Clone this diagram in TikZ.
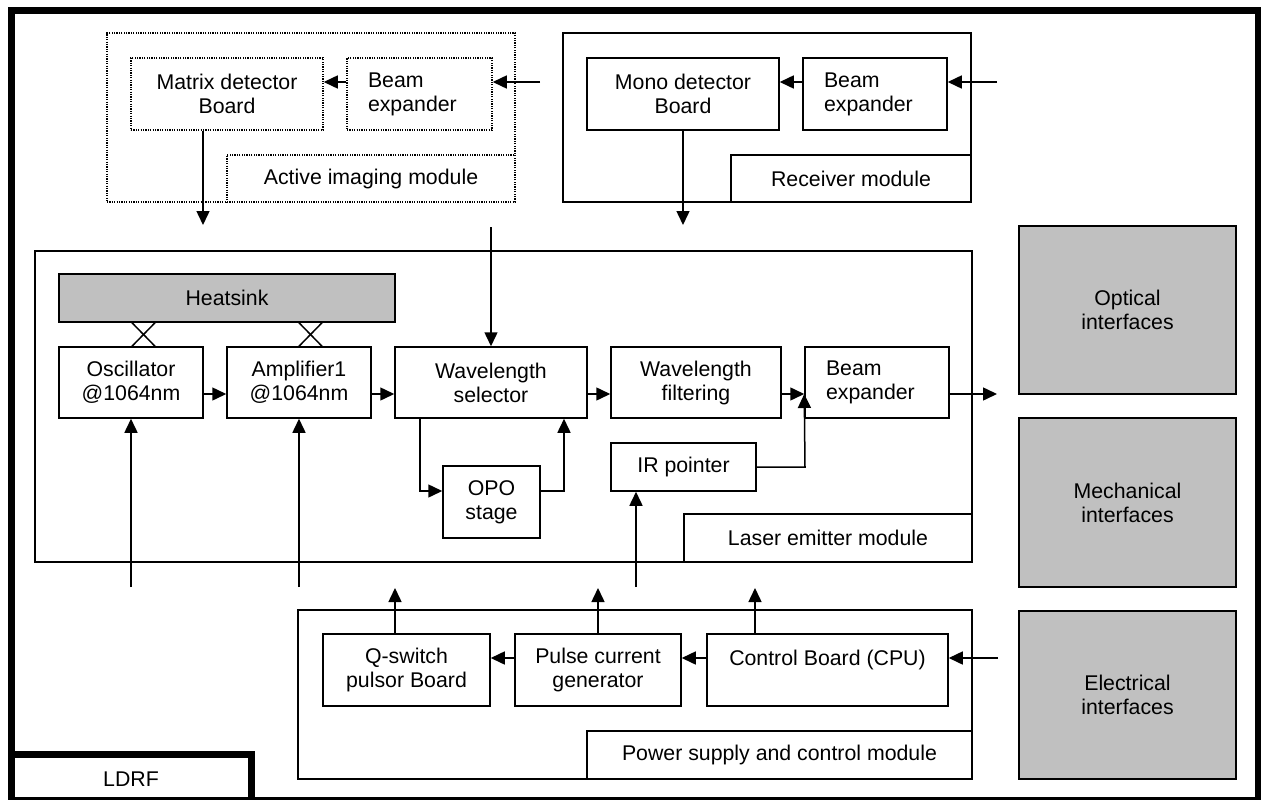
\documentclass[tikz,border=0pt]{standalone}
\usepackage{fontspec}
\setmainfont{Liberation Sans}
\usetikzlibrary{arrows.meta}
\definecolor{boxgray}{HTML}{C0C0C0}
\tikzset{
  txt/.style={font=\fontsize{21.3}{24}\selectfont},
  box/.style={draw, line width=1.5pt, rectangle, inner sep=0pt, align=center, txt},
  dotbox/.style={box, dash pattern=on 1.2pt off 1.2pt},
  graybox/.style={box, fill=boxgray},
  leftbox/.style={box, align=left, text width=#1, inner xsep=21pt},
  arr/.style={line width=1.5pt, -{Triangle[length=14pt,width=13pt]}},
  ln/.style={line width=1.5pt},
}
\begin{document}
\begin{tikzpicture}[x=1pt,y=-1pt]
\useasboundingbox (0,0) rectangle (1261,800);
% outer frame
\draw[line width=7pt] (11,10.5) rectangle (1258,800.5);
\node[box, line width=7pt, minimum width=240pt, minimum height=46pt] (ldrf) at (131,777.5) {};
\node[txt] at (131,779) {LDRF};

% Active imaging module
\node[dotbox, minimum width=408pt, minimum height=169pt] (aim) at (311,117.5) {};
\node[dotbox, fill=white, minimum width=288pt, minimum height=47pt] (aimlab) at (371,178.5) {Active imaging module};
\node[dotbox, minimum width=192pt, minimum height=72pt] (matrix) at (227,94) {Matrix detector\\Board};
\node[dotbox, leftbox=103pt, minimum width=145pt, minimum height=72pt] (bexpa) at (419.5,94) {Beam\\expander};

% Receiver module
\node[box, minimum width=408pt, minimum height=169pt] (recv) at (767,117.5) {};
\node[box, minimum width=240pt, minimum height=47pt] (recvlab) at (851,178.5) {Receiver module};
\node[box, minimum width=192pt, minimum height=72pt] (mono) at (683,94) {Mono detector\\Board};
\node[leftbox=102pt, minimum width=144pt, minimum height=72pt] (bexpb) at (875,94) {Beam\\expander};

% Laser emitter module
\node[box, minimum width=937pt, minimum height=311pt] (laser) at (503.5,406.5) {};
\node[box, minimum width=288pt, minimum height=48pt] (laserlab) at (828,538) {Laser emitter module};
\node[graybox, minimum width=336pt, minimum height=48pt] (heat) at (227,298) {Heatsink};
\node[box, minimum width=144pt, minimum height=71pt] (osc) at (131,382.5) {Oscillator\\@1064nm};
\node[box, minimum width=144pt, minimum height=71pt] (amp) at (299,382.5) {Amplifier1\\@1064nm};
\node[box, minimum width=192pt, minimum height=71pt] (wsel) at (491,382.5) {Wavelength\\selector};
\node[box, minimum width=170pt, minimum height=71pt] (wfilt) at (696,382.5) {Wavelength\\filtering};
\node[leftbox=102pt, minimum width=144pt, minimum height=71pt] (bexpc) at (877,382.5) {Beam\\expander};
\node[box, minimum width=145pt, minimum height=48pt] (irp) at (683.5,467) {IR pointer};
\node[box, minimum width=97pt, minimum height=72pt] (opo) at (491.5,502) {OPO\\stage};

% Power supply and control module
\node[box, minimum width=674pt, minimum height=169pt] (power) at (635,694.5) {};
\node[box, minimum width=385pt, minimum height=48pt] (powlab) at (779.5,755) {Power supply and control module};
\node[box, minimum width=167pt, minimum height=72pt] (qsw) at (406.5,670) {Q-switch\\pulsor Board};
\node[box, minimum width=166pt, minimum height=72pt] (pulse) at (598,670) {Pulse current\\generator};
\node[box, minimum width=241pt, minimum height=72pt] (ctrl) at (827.5,670) {Control Board (CPU)\\\mbox{}};

% Interfaces
\node[graybox, minimum width=217pt, minimum height=168pt] (optical) at (1127.5,310) {Optical\\interfaces};
\node[graybox, minimum width=217pt, minimum height=169pt] (mech) at (1127.5,502.5) {Mechanical\\interfaces};
\node[graybox, minimum width=217pt, minimum height=168pt] (elec) at (1127.5,695) {Electrical\\interfaces};

% coordinates
\coordinate (ina) at (540,82);
\coordinate (inb) at (997,82);
\coordinate (ma) at (203,225);
\coordinate (mb) at (683,225);
\coordinate (sa) at (491,227);
\coordinate (row) at (0,394);
\coordinate (outc) at (997,394);
\coordinate (oa) at (131,587);
\coordinate (ob) at (299,587);
\coordinate (oc) at (636,587);
\coordinate (qa) at (395,588);
\coordinate (qb) at (598,588);
\coordinate (qc) at (755,588);
\coordinate (inc) at (998,658);
\coordinate (crow) at (0,658);
\coordinate (opa) at (420,491);
\coordinate (opb) at (564,491);
\coordinate (irc) at (805,467);
\coordinate (xa) at (132,0);
\coordinate (xb) at (155,0);
\coordinate (xc) at (299,0);
\coordinate (xd) at (322,0);

% active imaging arrows
\draw[arr] (ina) -- (bexpa.east |- ina);
\draw[arr] (bexpa.west |- ina) -- (matrix.east |- ina);
\draw[arr] (matrix.south -| ma) -- (ma);
% receiver arrows
\draw[arr] (inb) -- (bexpb.east |- inb);
\draw[arr] (bexpb.west |- inb) -- (mono.east |- inb);
\draw[arr] (mono.south -| mb) -- (mb);
% laser arrows
\draw[arr] (sa) -- (wsel.north);
\draw[arr] (osc.east |- row) -- (amp.west |- row);
\draw[arr] (amp.east |- row) -- (wsel.west |- row);
\draw[arr] (wsel.east |- row) -- (wfilt.west |- row);
\draw[arr] (wfilt.east |- row) -- (bexpc.west |- row);
\draw[arr] (bexpc.east |- row) -- (outc);
\draw[arr] (wsel.south -| opa) -- (opa) -- (opo.west |- opa);
\draw[arr] (opo.east |- opb) -- (opb) -- (wsel.south -| opb);
\draw[arr] (irp.east |- irc) -- (irc) -- (bexpc.west |- row);
\draw[arr] (oa) -- (osc.south);
\draw[arr] (ob) -- (amp.south);
\draw[arr] (oc) -- (irp.south -| oc);
% heatsink couplings
\draw[ln] (heat.south -| xa) -- (osc.north -| xb);
\draw[ln] (heat.south -| xb) -- (osc.north -| xa);
\draw[ln] (heat.south -| xc) -- (amp.north -| xd);
\draw[ln] (heat.south -| xd) -- (amp.north -| xc);
% power arrows
\draw[arr] (qsw.north -| qa) -- (qa);
\draw[arr] (pulse.north -| qb) -- (qb);
\draw[arr] (ctrl.north -| qc) -- (qc);
\draw[arr] (inc) -- (ctrl.east |- inc);
\draw[arr] (ctrl.west |- crow) -- (pulse.east |- crow);
\draw[arr] (pulse.west |- crow) -- (qsw.east |- crow);
\end{tikzpicture}
\end{document}
